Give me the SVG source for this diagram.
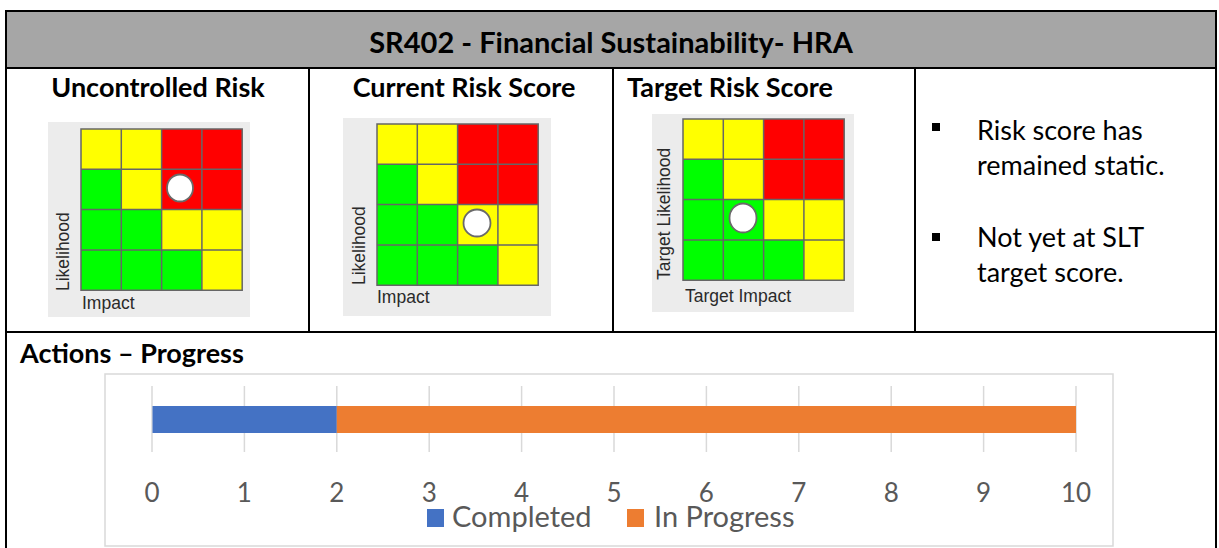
<svg xmlns="http://www.w3.org/2000/svg" width="1219" height="548" viewBox="0 0 1219 548">
<style>
.frame{fill:none;stroke:#000;stroke-width:2}
.hdr{fill:#a6a6a6}
.title{font-family:Lato,"Liberation Sans",sans-serif;font-weight:bold;font-size:29px;fill:#000}
.head{font-family:Lato,"Liberation Sans",sans-serif;font-weight:bold;font-size:27px;fill:#000}
.body{font-family:Lato,"Liberation Sans",sans-serif;font-size:27px;fill:#000}
.mbg{fill:#ececec}
.ax{font-family:"Liberation Sans",Arial,sans-serif;font-size:17.5px;fill:#2a2a2a}
.y{fill:#ffff00}.r{fill:#ff0000}.g{fill:#00ff00}
.cellgrid{fill:none;stroke:#666;stroke-width:1.5}
.dot{fill:#fff;stroke:#6a6a6a;stroke-width:1.8}
.gl{stroke:#d9d9d9;stroke-width:1.5}
.tick{font-family:Lato,"Liberation Sans",sans-serif;font-size:26px;fill:#595959;text-anchor:middle}
.leg{font-family:Lato,"Liberation Sans",sans-serif;font-size:29px;fill:#595959}
</style>
<defs>
<g id="matrix">
<rect class="y" x="0" y="0" width="40.3" height="40.3"/>
<rect class="y" x="40.3" y="0" width="40.3" height="40.3"/>
<rect class="r" x="80.6" y="0" width="40.3" height="40.3"/>
<rect class="r" x="120.9" y="0" width="40.3" height="40.3"/>
<rect class="g" x="0" y="40.3" width="40.3" height="40.3"/>
<rect class="y" x="40.3" y="40.3" width="40.3" height="40.3"/>
<rect class="r" x="80.6" y="40.3" width="40.3" height="40.3"/>
<rect class="r" x="120.9" y="40.3" width="40.3" height="40.3"/>
<rect class="g" x="0" y="80.6" width="40.3" height="40.3"/>
<rect class="g" x="40.3" y="80.6" width="40.3" height="40.3"/>
<rect class="y" x="80.6" y="80.6" width="40.3" height="40.3"/>
<rect class="y" x="120.9" y="80.6" width="40.3" height="40.3"/>
<rect class="g" x="0" y="120.9" width="40.3" height="40.3"/>
<rect class="g" x="40.3" y="120.9" width="40.3" height="40.3"/>
<rect class="g" x="80.6" y="120.9" width="40.3" height="40.3"/>
<rect class="y" x="120.9" y="120.9" width="40.3" height="40.3"/>
<path class="cellgrid" d="M0 0H161.2V161.2H0Z M40.3 0V161.2 M80.6 0V161.2 M120.9 0V161.2 M0 40.3H161.2 M0 80.6H161.2 M0 120.9H161.2"/>
</g>
</defs>

<g id="table">
<rect class="hdr" x="7" y="12" width="1208" height="56"/>
<path class="frame" d="M6 548V11H1216V548 M6 68H1216 M6 332H1216 M309 68V332 M613 68V332 M915 68V332"/>
<text class="title" x="611" y="53" text-anchor="middle">SR402 - Financial Sustainability- HRA</text>
</g>

<g id="uncontrolled">
<text class="head" x="158" y="97" text-anchor="middle">Uncontrolled Risk</text>
<rect class="mbg" x="48" y="122" width="202" height="195"/>
<use href="#matrix" x="81" y="129"/>
<ellipse class="dot" cx="180" cy="188" rx="13" ry="13.5"/>
<text class="ax" transform="translate(69,291) rotate(-90)">Likelihood</text>
<text class="ax" x="82" y="309">Impact</text>
</g>

<g id="current">
<text class="head" x="464" y="97" text-anchor="middle">Current Risk Score</text>
<rect class="mbg" x="343" y="118" width="208" height="198"/>
<use href="#matrix" x="377" y="124"/>
<ellipse class="dot" cx="477" cy="223" rx="13.5" ry="13.5"/>
<text class="ax" transform="translate(365,285) rotate(-90)">Likelihood</text>
<text class="ax" x="377" y="303">Impact</text>
</g>

<g id="target">
<text class="head" x="730" y="97" text-anchor="middle">Target Risk Score</text>
<rect class="mbg" x="652" y="114" width="202" height="198"/>
<use href="#matrix" x="683" y="119"/>
<ellipse class="dot" cx="743" cy="218" rx="13.5" ry="14.5"/>
<text class="ax" transform="translate(670,280) rotate(-90)">Target Likelihood</text>
<text class="ax" x="685" y="302">Target Impact</text>
</g>

<g id="notes">
<rect x="932" y="123" width="8" height="8" fill="#000"/>
<text class="body" x="977" y="140">Risk score has</text>
<text class="body" x="977" y="175">remained static.</text>
<rect x="932" y="233" width="8" height="8" fill="#000"/>
<text class="body" x="977" y="247">Not yet at SLT</text>
<text class="body" x="977" y="282">target score.</text>
</g>

<g id="progress">
<text class="head" x="20" y="363">Actions – Progress</text>
<rect x="105" y="374" width="1008" height="172" fill="#fff" stroke="#d9d9d9" stroke-width="1.5"/>
<g>
<line class="gl" x1="152" y1="386" x2="152" y2="452"/>
<line class="gl" x1="244.4" y1="386" x2="244.4" y2="452"/>
<line class="gl" x1="336.8" y1="386" x2="336.8" y2="452"/>
<line class="gl" x1="429.2" y1="386" x2="429.2" y2="452"/>
<line class="gl" x1="521.6" y1="386" x2="521.6" y2="452"/>
<line class="gl" x1="614" y1="386" x2="614" y2="452"/>
<line class="gl" x1="706.4" y1="386" x2="706.4" y2="452"/>
<line class="gl" x1="798.8" y1="386" x2="798.8" y2="452"/>
<line class="gl" x1="891.2" y1="386" x2="891.2" y2="452"/>
<line class="gl" x1="983.6" y1="386" x2="983.6" y2="452"/>
<line class="gl" x1="1076" y1="386" x2="1076" y2="452"/>
</g>
<rect x="152.5" y="406" width="184.3" height="27" fill="#4472c4"/>
<rect x="336.8" y="406" width="739.2" height="27" fill="#ed7d31"/>
<text class="tick" x="152" y="502">0</text>
<text class="tick" x="244.4" y="502">1</text>
<text class="tick" x="336.8" y="502">2</text>
<text class="tick" x="429.2" y="502">3</text>
<text class="tick" x="521.6" y="502">4</text>
<text class="tick" x="614" y="502">5</text>
<text class="tick" x="706.4" y="502">6</text>
<text class="tick" x="798.8" y="502">7</text>
<text class="tick" x="891.2" y="502">8</text>
<text class="tick" x="983.6" y="502">9</text>
<text class="tick" x="1076" y="502">10</text>
<rect x="427" y="509" width="17" height="18" fill="#4472c4"/>
<text class="leg" x="452" y="527">Completed</text>
<rect x="627" y="509" width="17" height="18" fill="#ed7d31"/>
<text class="leg" x="654" y="527">In Progress</text>
</g>
</svg>
